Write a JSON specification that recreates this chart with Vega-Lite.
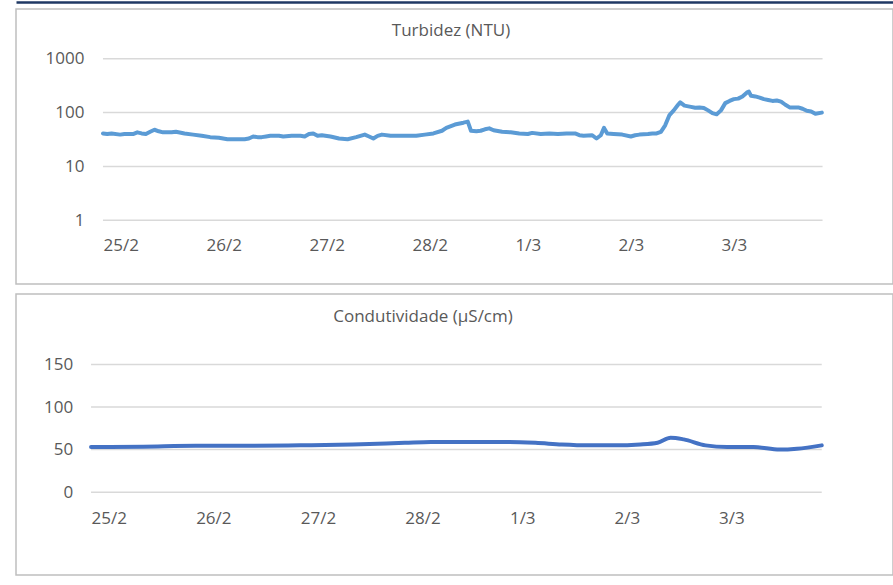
{
  "$schema": "https://vega.github.io/schema/vega-lite/v6.json",
  "padding": {"left": 15, "top": 1, "right": 1, "bottom": 10},
  "spacing": 8,
  "config": {
    "view": {"stroke": "#bfbfbf", "strokeWidth": 1.5},
    "font": "Open Sans",
    "axis": {"labelColor": "#595959", "labelFontSize": 17, "labelFont": "Open Sans", "title": null, "domain": false, "ticks": false, "tickSize": 0, "grid": false, "labelPadding": 0}
  },
  "vconcat": [
    {
      "width": 877,
      "height": 275,
      "title": {"text": "Turbidez (NTU)", "fontSize": 17, "fontWeight": "normal", "color": "#595959", "font": "Open Sans", "offset": -46, "baseline": "middle", "dx": -3.5},
      "resolve": {"axis": {"x": "independent"}},
      "layer": [
        {
          "data": {"values": [{"g": 1}, {"g": 10}, {"g": 100}, {"g": 1000}]},
          "mark": {"type": "rule", "color": "#d9d9d9", "strokeWidth": 1.5},
          "encoding": {
            "x": {"datum": {"year": 2023, "month": 2, "date": 25}, "type": "temporal",
                  "scale": {"domain": [{"year": 2023, "month": 2, "date": 24, "hours": 3, "minutes": 44}, {"year": 2023, "month": 3, "date": 4, "hours": 16, "minutes": 5}], "nice": false},
                  "axis": {"orient": "top", "offset": 7, "domain": true, "domainColor": "#1f3864", "domainWidth": 2.5, "labels": false, "ticks": false, "grid": false, "title": null}},
            "x2": {"datum": {"year": 2023, "month": 3, "date": 3, "hours": 23, "minutes": 40}},
            "y": {"field": "g", "type": "quantitative",
                  "scale": {"type": "log", "domain": [0.0652, 8429], "nice": false},
                  "axis": {"values": [1, 10, 100, 1000], "format": "d", "offset": -68, "title": null}}
          }
        },
        {
          "data": {"values": [
            {"t": "2023-02-25T00:00", "v": 41}, {"t": "2023-02-25T01:00", "v": 40}, {"t": "2023-02-25T02:00", "v": 41},
            {"t": "2023-02-25T04:00", "v": 39}, {"t": "2023-02-25T05:00", "v": 40}, {"t": "2023-02-25T07:00", "v": 40},
            {"t": "2023-02-25T08:00", "v": 43}, {"t": "2023-02-25T09:00", "v": 41}, {"t": "2023-02-25T10:00", "v": 40},
            {"t": "2023-02-25T11:00", "v": 44}, {"t": "2023-02-25T12:00", "v": 48}, {"t": "2023-02-25T13:00", "v": 45},
            {"t": "2023-02-25T14:00", "v": 43}, {"t": "2023-02-25T16:00", "v": 43}, {"t": "2023-02-25T17:00", "v": 44},
            {"t": "2023-02-25T19:00", "v": 41}, {"t": "2023-02-25T21:00", "v": 39}, {"t": "2023-02-25T23:00", "v": 37},
            {"t": "2023-02-26T01:00", "v": 35}, {"t": "2023-02-26T03:00", "v": 34}, {"t": "2023-02-26T05:00", "v": 32},
            {"t": "2023-02-26T07:00", "v": 32}, {"t": "2023-02-26T09:00", "v": 32}, {"t": "2023-02-26T10:00", "v": 33},
            {"t": "2023-02-26T11:00", "v": 36}, {"t": "2023-02-26T12:00", "v": 35}, {"t": "2023-02-26T13:00", "v": 35},
            {"t": "2023-02-26T14:00", "v": 36}, {"t": "2023-02-26T15:00", "v": 37}, {"t": "2023-02-26T17:00", "v": 37},
            {"t": "2023-02-26T18:00", "v": 36}, {"t": "2023-02-26T20:00", "v": 37}, {"t": "2023-02-26T22:00", "v": 37},
            {"t": "2023-02-26T23:00", "v": 36}, {"t": "2023-02-27T00:00", "v": 40}, {"t": "2023-02-27T01:00", "v": 41},
            {"t": "2023-02-27T02:00", "v": 37}, {"t": "2023-02-27T03:00", "v": 38}, {"t": "2023-02-27T05:00", "v": 36},
            {"t": "2023-02-27T07:00", "v": 33}, {"t": "2023-02-27T09:00", "v": 32}, {"t": "2023-02-27T11:00", "v": 35},
            {"t": "2023-02-27T13:00", "v": 39}, {"t": "2023-02-27T14:00", "v": 36}, {"t": "2023-02-27T15:00", "v": 33},
            {"t": "2023-02-27T16:00", "v": 37}, {"t": "2023-02-27T17:00", "v": 39}, {"t": "2023-02-27T19:00", "v": 37},
            {"t": "2023-02-27T21:00", "v": 37}, {"t": "2023-02-27T23:00", "v": 37}, {"t": "2023-02-28T01:00", "v": 37},
            {"t": "2023-02-28T03:00", "v": 39}, {"t": "2023-02-28T05:00", "v": 41}, {"t": "2023-02-28T07:00", "v": 46},
            {"t": "2023-02-28T08:00", "v": 52}, {"t": "2023-02-28T10:00", "v": 60}, {"t": "2023-02-28T12:00", "v": 65},
            {"t": "2023-02-28T13:00", "v": 68}, {"t": "2023-02-28T13:45", "v": 46}, {"t": "2023-02-28T15:00", "v": 45},
            {"t": "2023-02-28T16:00", "v": 46}, {"t": "2023-02-28T17:00", "v": 49}, {"t": "2023-02-28T18:00", "v": 51},
            {"t": "2023-02-28T19:00", "v": 47}, {"t": "2023-02-28T21:00", "v": 44}, {"t": "2023-02-28T23:00", "v": 43},
            {"t": "2023-03-01T01:00", "v": 41}, {"t": "2023-03-01T03:00", "v": 40}, {"t": "2023-03-01T04:00", "v": 42},
            {"t": "2023-03-01T06:00", "v": 40}, {"t": "2023-03-01T08:00", "v": 41}, {"t": "2023-03-01T10:00", "v": 40},
            {"t": "2023-03-01T12:00", "v": 41}, {"t": "2023-03-01T14:00", "v": 41}, {"t": "2023-03-01T15:00", "v": 38},
            {"t": "2023-03-01T16:00", "v": 37}, {"t": "2023-03-01T18:00", "v": 38}, {"t": "2023-03-01T19:00", "v": 33},
            {"t": "2023-03-01T20:00", "v": 38}, {"t": "2023-03-01T20:45", "v": 52}, {"t": "2023-03-01T21:30", "v": 41},
            {"t": "2023-03-01T23:00", "v": 40}, {"t": "2023-03-02T01:00", "v": 39}, {"t": "2023-03-02T03:00", "v": 36},
            {"t": "2023-03-02T04:00", "v": 38}, {"t": "2023-03-02T05:00", "v": 39}, {"t": "2023-03-02T07:00", "v": 40},
            {"t": "2023-03-02T08:00", "v": 41}, {"t": "2023-03-02T09:00", "v": 41}, {"t": "2023-03-02T10:00", "v": 44},
            {"t": "2023-03-02T11:00", "v": 58}, {"t": "2023-03-02T12:00", "v": 90}, {"t": "2023-03-02T13:00", "v": 110},
            {"t": "2023-03-02T14:00", "v": 140}, {"t": "2023-03-02T14:30", "v": 155}, {"t": "2023-03-02T15:30", "v": 135},
            {"t": "2023-03-02T17:00", "v": 128}, {"t": "2023-03-02T18:00", "v": 123}, {"t": "2023-03-02T19:00", "v": 125},
            {"t": "2023-03-02T20:00", "v": 122}, {"t": "2023-03-02T21:00", "v": 110}, {"t": "2023-03-02T22:00", "v": 98},
            {"t": "2023-03-02T23:00", "v": 93}, {"t": "2023-03-03T00:00", "v": 110}, {"t": "2023-03-03T01:00", "v": 150},
            {"t": "2023-03-03T02:00", "v": 165}, {"t": "2023-03-03T03:00", "v": 178}, {"t": "2023-03-03T04:00", "v": 182},
            {"t": "2023-03-03T05:00", "v": 200}, {"t": "2023-03-03T06:00", "v": 235}, {"t": "2023-03-03T06:30", "v": 245},
            {"t": "2023-03-03T07:00", "v": 205}, {"t": "2023-03-03T08:00", "v": 200}, {"t": "2023-03-03T09:00", "v": 190},
            {"t": "2023-03-03T10:00", "v": 178}, {"t": "2023-03-03T11:00", "v": 172}, {"t": "2023-03-03T12:00", "v": 165},
            {"t": "2023-03-03T13:00", "v": 168}, {"t": "2023-03-03T14:00", "v": 160}, {"t": "2023-03-03T15:00", "v": 140},
            {"t": "2023-03-03T16:00", "v": 125}, {"t": "2023-03-03T17:00", "v": 124}, {"t": "2023-03-03T18:00", "v": 125},
            {"t": "2023-03-03T19:00", "v": 118}, {"t": "2023-03-03T20:00", "v": 108}, {"t": "2023-03-03T21:00", "v": 105},
            {"t": "2023-03-03T22:00", "v": 95}, {"t": "2023-03-03T23:30", "v": 100}
          ]},
          "mark": {"type": "line", "color": "#5b9bd5", "strokeWidth": 4, "strokeJoin": "round", "strokeCap": "round"},
          "encoding": {
            "x": {"field": "t", "type": "temporal",
                  "axis": {"orient": "bottom", "values": [
                    {"year": 2023, "month": 2, "date": 25}, {"year": 2023, "month": 2, "date": 26}, {"year": 2023, "month": 2, "date": 27},
                    {"year": 2023, "month": 2, "date": 28}, {"year": 2023, "month": 3, "date": 1}, {"year": 2023, "month": 3, "date": 2},
                    {"year": 2023, "month": 3, "date": 3}],
                    "format": "%-d/%-m", "labelAlign": "left", "labelBaseline": "middle", "labelFlush": false, "labelOverlap": false, "labelBound": false,
                    "offset": -38.5, "labelDx": 1, "title": null}},
            "y": {"field": "v", "type": "quantitative",
                  "axis": {"values": [1, 10, 100, 1000], "format": "d", "offset": -68, "title": null}}
          }
        }
      ]
    },
    {
      "width": 877,
      "height": 281,
      "title": {"text": "Condutividade (µS/cm)", "fontSize": 17, "fontWeight": "normal", "color": "#595959", "font": "Open Sans", "offset": -39.5, "baseline": "middle", "dx": -31.5},
      "layer": [
        {
          "data": {"values": [{"g": 0}, {"g": 50}, {"g": 100}, {"g": 150}]},
          "mark": {"type": "rule", "color": "#d9d9d9", "strokeWidth": 1.5},
          "encoding": {
            "x": {"datum": {"year": 2023, "month": 2, "date": 25}, "type": "temporal",
                  "scale": {"domain": [{"year": 2023, "month": 2, "date": 24, "hours": 6, "minutes": 47}, {"year": 2023, "month": 3, "date": 4, "hours": 16, "minutes": 1}], "nice": false}},
            "x2": {"datum": {"year": 2023, "month": 3, "date": 3, "hours": 23, "minutes": 40}},
            "y": {"field": "g", "type": "quantitative",
                  "scale": {"domain": [-97.3, 232.8], "nice": false, "zero": false},
                  "axis": {"values": [0, 50, 100, 150], "format": "d", "offset": -56.7, "title": null}}
          }
        },
        {
          "data": {"values": [
            {"t": "2023-02-25T00:00", "v": 53}, {"t": "2023-02-25T12:00", "v": 53.5}, {"t": "2023-02-26T00:00", "v": 54.5},
            {"t": "2023-02-26T12:00", "v": 54.5}, {"t": "2023-02-27T00:00", "v": 55}, {"t": "2023-02-27T12:00", "v": 56},
            {"t": "2023-02-28T00:00", "v": 58}, {"t": "2023-02-28T06:00", "v": 59}, {"t": "2023-02-28T12:00", "v": 59},
            {"t": "2023-02-28T18:00", "v": 59}, {"t": "2023-03-01T00:00", "v": 59}, {"t": "2023-03-01T06:00", "v": 58},
            {"t": "2023-03-01T12:00", "v": 56}, {"t": "2023-03-01T18:00", "v": 55}, {"t": "2023-03-02T00:00", "v": 55},
            {"t": "2023-03-02T06:00", "v": 56}, {"t": "2023-03-02T10:00", "v": 58}, {"t": "2023-03-02T13:00", "v": 64},
            {"t": "2023-03-02T16:00", "v": 62}, {"t": "2023-03-02T21:00", "v": 55}, {"t": "2023-03-03T02:00", "v": 53},
            {"t": "2023-03-03T08:00", "v": 53}, {"t": "2023-03-03T14:00", "v": 50}, {"t": "2023-03-03T18:00", "v": 51},
            {"t": "2023-03-03T23:40", "v": 55}
          ]},
          "mark": {"type": "line", "color": "#4472c4", "strokeWidth": 4, "interpolate": "monotone", "strokeCap": "round"},
          "encoding": {
            "x": {"field": "t", "type": "temporal",
                  "axis": {"values": [
                    {"year": 2023, "month": 2, "date": 25}, {"year": 2023, "month": 2, "date": 26}, {"year": 2023, "month": 2, "date": 27},
                    {"year": 2023, "month": 2, "date": 28}, {"year": 2023, "month": 3, "date": 1}, {"year": 2023, "month": 3, "date": 2},
                    {"year": 2023, "month": 3, "date": 3}],
                    "format": "%-d/%-m", "labelAlign": "left", "labelBaseline": "middle", "labelFlush": false, "labelOverlap": false, "labelBound": false,
                    "offset": -56.8, "labelDx": 1, "title": null}},
            "y": {"field": "v", "type": "quantitative",
                  "axis": {"values": [0, 50, 100, 150], "format": "d", "offset": -56.7, "title": null}}
          }
        }
      ]
    }
  ]
}
